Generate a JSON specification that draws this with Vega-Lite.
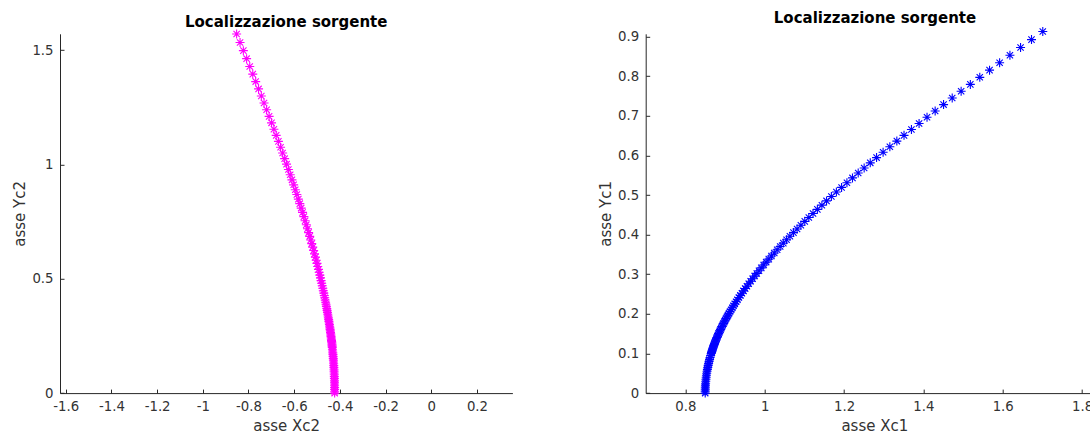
{
  "$schema": "https://vega.github.io/schema/vega-lite/v6.json",
  "background": "white",
  "padding": {"left": 12, "top": 10.8, "right": -3, "bottom": 0},
  "bounds": "flush",
  "spacing": 132.7,
  "config": {
    "view": {"stroke": null},
    "font": "DejaVu Sans",
    "locale": {"number": {"decimal": ".", "thousands": ",", "grouping": [3], "currency": ["", ""], "minus": "-"}},
    "axis": {
      "domainColor": "#262626", "tickColor": "#262626", "labelColor": "#333333", "titleColor": "#333333",
      "labelFont": "DejaVu Sans", "titleFont": "DejaVu Sans",
      "labelFontSize": 13.3, "titleFontSize": 15, "titleFontWeight": "normal",
      "grid": false, "tickSize": -4, "domainWidth": 1, "tickWidth": 1
    },
    "axisX": {"labelPadding": 10, "titlePadding": 6.5},
    "axisY": {"labelPadding": 11, "titlePadding": 4},
    "title": {"font": "DejaVu Sans", "fontSize": 15, "fontWeight": "bold", "color": "#000000", "anchor": "middle", "baseline": "alphabetic"}
  },
  "datasets": {
    "src2": [
      {"x": -0.4230, "y": 0}, {"x": -0.4230, "y": 0.008}, {"x": -0.4231, "y": 0.016}, {"x": -0.4232, "y": 0.024},
      {"x": -0.4233, "y": 0.032}, {"x": -0.4234, "y": 0.04}, {"x": -0.4236, "y": 0.048}, {"x": -0.4238, "y": 0.056},
      {"x": -0.4241, "y": 0.064}, {"x": -0.4244, "y": 0.072}, {"x": -0.4247, "y": 0.08}, {"x": -0.4250, "y": 0.088},
      {"x": -0.4254, "y": 0.096}, {"x": -0.4258, "y": 0.104}, {"x": -0.4263, "y": 0.112}, {"x": -0.4268, "y": 0.12},
      {"x": -0.4273, "y": 0.128}, {"x": -0.4278, "y": 0.136}, {"x": -0.4284, "y": 0.144}, {"x": -0.4290, "y": 0.152},
      {"x": -0.4297, "y": 0.16}, {"x": -0.4303, "y": 0.168}, {"x": -0.4311, "y": 0.176}, {"x": -0.4318, "y": 0.184},
      {"x": -0.4326, "y": 0.192},
      {"x": -0.4334, "y": 0.2000}, {"x": -0.4339, "y": 0.2048}, {"x": -0.4344, "y": 0.2097}, {"x": -0.4349, "y": 0.2147},
      {"x": -0.4355, "y": 0.2199}, {"x": -0.4361, "y": 0.2251}, {"x": -0.4367, "y": 0.2305}, {"x": -0.4374, "y": 0.2361},
      {"x": -0.4381, "y": 0.2417}, {"x": -0.4388, "y": 0.2475}, {"x": -0.4395, "y": 0.2534}, {"x": -0.4403, "y": 0.2595},
      {"x": -0.4411, "y": 0.2657}, {"x": -0.4420, "y": 0.2721}, {"x": -0.4429, "y": 0.2786}, {"x": -0.4438, "y": 0.2853},
      {"x": -0.4448, "y": 0.2922}, {"x": -0.4459, "y": 0.2992}, {"x": -0.4469, "y": 0.3063}, {"x": -0.4481, "y": 0.3137},
      {"x": -0.4492, "y": 0.3212}, {"x": -0.4505, "y": 0.3289}, {"x": -0.4518, "y": 0.3368}, {"x": -0.4531, "y": 0.3448},
      {"x": -0.4545, "y": 0.3531}, {"x": -0.4560, "y": 0.3616}, {"x": -0.4575, "y": 0.3702}, {"x": -0.4592, "y": 0.3791},
      {"x": -0.4608, "y": 0.3882}, {"x": -0.4626, "y": 0.3975}, {"x": -0.4644, "y": 0.4070}, {"x": -0.4663, "y": 0.4168},
      {"x": -0.4683, "y": 0.4268}, {"x": -0.4704, "y": 0.4370}, {"x": -0.4726, "y": 0.4475}, {"x": -0.4749, "y": 0.4582},
      {"x": -0.4773, "y": 0.4692}, {"x": -0.4797, "y": 0.4804}, {"x": -0.4823, "y": 0.4919}, {"x": -0.4850, "y": 0.5037},
      {"x": -0.4878, "y": 0.5158}, {"x": -0.4907, "y": 0.5282}, {"x": -0.4938, "y": 0.5408}, {"x": -0.4970, "y": 0.5538},
      {"x": -0.5003, "y": 0.5670}, {"x": -0.5037, "y": 0.5806}, {"x": -0.5073, "y": 0.5946}, {"x": -0.5110, "y": 0.6088},
      {"x": -0.5149, "y": 0.6234}, {"x": -0.5190, "y": 0.6383}, {"x": -0.5232, "y": 0.6536}, {"x": -0.5276, "y": 0.6693},
      {"x": -0.5321, "y": 0.6853}, {"x": -0.5368, "y": 0.7017}, {"x": -0.5418, "y": 0.7186}, {"x": -0.5469, "y": 0.7358},
      {"x": -0.5522, "y": 0.7534}, {"x": -0.5577, "y": 0.7715}, {"x": -0.5634, "y": 0.7900}, {"x": -0.5693, "y": 0.8089},
      {"x": -0.5755, "y": 0.8283}, {"x": -0.5818, "y": 0.8481}, {"x": -0.5885, "y": 0.8685}, {"x": -0.5953, "y": 0.8893},
      {"x": -0.6024, "y": 0.9106}, {"x": -0.6098, "y": 0.9324}, {"x": -0.6174, "y": 0.9548}, {"x": -0.6253, "y": 0.9776},
      {"x": -0.6335, "y": 1.0011}, {"x": -0.6419, "y": 1.0251}, {"x": -0.6507, "y": 1.0496}, {"x": -0.6597, "y": 1.0748},
      {"x": -0.6691, "y": 1.1006}, {"x": -0.6788, "y": 1.1269}, {"x": -0.6888, "y": 1.1539}, {"x": -0.6991, "y": 1.1816},
      {"x": -0.7098, "y": 1.2099}, {"x": -0.7208, "y": 1.2389}, {"x": -0.7321, "y": 1.2686}, {"x": -0.7439, "y": 1.2990},
      {"x": -0.7560, "y": 1.3301}, {"x": -0.7685, "y": 1.3620}, {"x": -0.7814, "y": 1.3947}, {"x": -0.7946, "y": 1.4281},
      {"x": -0.8083, "y": 1.4623}, {"x": -0.8225, "y": 1.4974}, {"x": -0.8370, "y": 1.5332}, {"x": -0.8520, "y": 1.5700}
    ],
    "src1": [
      {"x": 0.8500, "y": 0}, {"x": 0.8500, "y": 0.005}, {"x": 0.8502, "y": 0.01}, {"x": 0.8503, "y": 0.015},
      {"x": 0.8506, "y": 0.02}, {"x": 0.8510, "y": 0.025}, {"x": 0.8514, "y": 0.03}, {"x": 0.8519, "y": 0.035},
      {"x": 0.8525, "y": 0.04}, {"x": 0.8531, "y": 0.045}, {"x": 0.8538, "y": 0.05}, {"x": 0.8546, "y": 0.055},
      {"x": 0.8555, "y": 0.06}, {"x": 0.8565, "y": 0.065}, {"x": 0.8575, "y": 0.07}, {"x": 0.8586, "y": 0.075},
      {"x": 0.8598, "y": 0.08}, {"x": 0.8610, "y": 0.085}, {"x": 0.8623, "y": 0.09}, {"x": 0.8637, "y": 0.095},
      {"x": 0.8652, "y": 0.1000}, {"x": 0.8659, "y": 0.1023}, {"x": 0.8666, "y": 0.1046}, {"x": 0.8674, "y": 0.1070},
      {"x": 0.8682, "y": 0.1095}, {"x": 0.8690, "y": 0.1119}, {"x": 0.8699, "y": 0.1145}, {"x": 0.8708, "y": 0.1171},
      {"x": 0.8717, "y": 0.1198}, {"x": 0.8727, "y": 0.1225}, {"x": 0.8737, "y": 0.1253}, {"x": 0.8748, "y": 0.1282},
      {"x": 0.8760, "y": 0.1311}, {"x": 0.8771, "y": 0.1341}, {"x": 0.8784, "y": 0.1372}, {"x": 0.8797, "y": 0.1403},
      {"x": 0.8810, "y": 0.1435}, {"x": 0.8824, "y": 0.1468}, {"x": 0.8839, "y": 0.1501}, {"x": 0.8854, "y": 0.1535},
      {"x": 0.8870, "y": 0.1570}, {"x": 0.8887, "y": 0.1606}, {"x": 0.8904, "y": 0.1643}, {"x": 0.8922, "y": 0.1680},
      {"x": 0.8941, "y": 0.1719}, {"x": 0.8961, "y": 0.1758}, {"x": 0.8982, "y": 0.1798}, {"x": 0.9004, "y": 0.1839},
      {"x": 0.9026, "y": 0.1881}, {"x": 0.9050, "y": 0.1924}, {"x": 0.9074, "y": 0.1968}, {"x": 0.9100, "y": 0.2013},
      {"x": 0.9127, "y": 0.2059}, {"x": 0.9155, "y": 0.2106}, {"x": 0.9184, "y": 0.2154}, {"x": 0.9214, "y": 0.2203},
      {"x": 0.9246, "y": 0.2253}, {"x": 0.9279, "y": 0.2305}, {"x": 0.9313, "y": 0.2357}, {"x": 0.9349, "y": 0.2411},
      {"x": 0.9386, "y": 0.2466}, {"x": 0.9425, "y": 0.2522}, {"x": 0.9466, "y": 0.2580}, {"x": 0.9508, "y": 0.2639},
      {"x": 0.9552, "y": 0.2699}, {"x": 0.9597, "y": 0.2761}, {"x": 0.9645, "y": 0.2823}, {"x": 0.9695, "y": 0.2888},
      {"x": 0.9746, "y": 0.2954}, {"x": 0.9800, "y": 0.3021}, {"x": 0.9856, "y": 0.3090}, {"x": 0.9914, "y": 0.3161},
      {"x": 0.9974, "y": 0.3233}, {"x": 1.0037, "y": 0.3307}, {"x": 1.0103, "y": 0.3382}, {"x": 1.0170, "y": 0.3459},
      {"x": 1.0241, "y": 0.3538}, {"x": 1.0314, "y": 0.3619}, {"x": 1.0390, "y": 0.3701}, {"x": 1.0469, "y": 0.3786},
      {"x": 1.0551, "y": 0.3872}, {"x": 1.0636, "y": 0.3961}, {"x": 1.0725, "y": 0.4051}, {"x": 1.0816, "y": 0.4143},
      {"x": 1.0912, "y": 0.4238}, {"x": 1.1010, "y": 0.4335}, {"x": 1.1112, "y": 0.4434}, {"x": 1.1218, "y": 0.4535},
      {"x": 1.1328, "y": 0.4638}, {"x": 1.1442, "y": 0.4744}, {"x": 1.1559, "y": 0.4852}, {"x": 1.1681, "y": 0.4963},
      {"x": 1.1807, "y": 0.5076}, {"x": 1.1938, "y": 0.5192}, {"x": 1.2073, "y": 0.5311}, {"x": 1.2213, "y": 0.5432},
      {"x": 1.2357, "y": 0.5556}, {"x": 1.2507, "y": 0.5682}, {"x": 1.2661, "y": 0.5812}, {"x": 1.2820, "y": 0.5945},
      {"x": 1.2985, "y": 0.6080}, {"x": 1.3155, "y": 0.6219}, {"x": 1.3331, "y": 0.6361}, {"x": 1.3512, "y": 0.6506},
      {"x": 1.3699, "y": 0.6655}, {"x": 1.3892, "y": 0.6806}, {"x": 1.4092, "y": 0.6962}, {"x": 1.4297, "y": 0.7121},
      {"x": 1.4509, "y": 0.7283}, {"x": 1.4727, "y": 0.7449}, {"x": 1.4952, "y": 0.7619}, {"x": 1.5184, "y": 0.7793},
      {"x": 1.5422, "y": 0.7971}, {"x": 1.5668, "y": 0.8153}, {"x": 1.5922, "y": 0.8339}, {"x": 1.6182, "y": 0.8529},
      {"x": 1.6450, "y": 0.8724}, {"x": 1.6726, "y": 0.8923}, {"x": 1.7010, "y": 0.9127}
    ]
  },
  "hconcat": [
    {
      "width": 452.4,
      "height": 359.3,
      "title": {"text": "Localizzazione sorgente", "offset": -2.5},
      "data": {"name": "src2"},
      "mark": {"type": "point", "shape": "M-1,0L1,0M0,-1L0,1M-0.7,-0.7L0.7,0.7M-0.7,0.7L0.7,-0.7", "size": 81, "filled": false, "stroke": "#ff00ff", "strokeWidth": 1.1, "opacity": 1, "clip": false},
      "encoding": {
        "x": {"field": "x", "type": "quantitative", "scale": {"domain": [-1.625, 0.355], "nice": false, "zero": false},
              "axis": {"title": "asse Xc2", "values": [-1.6, -1.4, -1.2, -1, -0.8, -0.6, -0.4, -0.2, 0, 0.2], "format": "~g"}},
        "y": {"field": "y", "type": "quantitative", "scale": {"domain": [0, 1.571], "nice": false, "zero": false},
              "axis": {"title": "asse Yc2", "values": [0, 0.5, 1, 1.5], "format": "~g"}}
      }
    },
    {
      "width": 445,
      "height": 359.3,
      "title": {"text": "Localizzazione sorgente", "offset": -1, "dx": 6.8},
      "data": {"name": "src1"},
      "mark": {"type": "point", "shape": "M-1,0L1,0M0,-1L0,1M-0.7,-0.7L0.7,0.7M-0.7,0.7L0.7,-0.7", "size": 81, "filled": false, "stroke": "#0000ff", "strokeWidth": 1.1, "opacity": 1, "clip": false},
      "encoding": {
        "x": {"field": "x", "type": "quantitative", "scale": {"domain": [0.7, 1.8218], "nice": false, "zero": false},
              "axis": {"title": "asse Xc1", "titleX": 228.6, "values": [0.8, 1, 1.2, 1.4, 1.6, 1.8], "format": "~g"}},
        "y": {"field": "y", "type": "quantitative", "scale": {"domain": [0, 0.907], "nice": false, "zero": false},
              "axis": {"title": "asse Yc1", "values": [0, 0.1, 0.2, 0.3, 0.4, 0.5, 0.6, 0.7, 0.8, 0.9], "format": "~g"}}
      }
    }
  ]
}
